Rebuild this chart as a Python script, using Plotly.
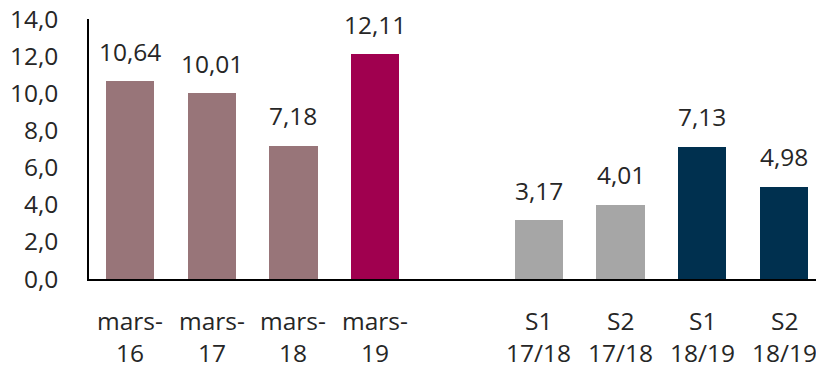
import plotly.graph_objects as go

# Data
categories_line1 = ["mars-", "mars-", "mars-", "mars-", "S1", "S2", "S1", "S2"]
categories_line2 = ["16", "17", "18", "19", "17/18", "17/18", "18/19", "18/19"]
slots = [0, 1, 2, 3, 5, 6, 7, 8]
values = [10.64, 10.01, 7.18, 12.11, 3.17, 4.01, 7.13, 4.98]
colors = ["#987579", "#987579", "#987579", "#A0004F",
          "#A6A6A6", "#A6A6A6", "#00304F", "#00304F"]
y_ticks = [0, 2, 4, 6, 8, 10, 12, 14]

FONT = "Open Sans"
TXT = "#262626"
FS = 24.5

fig = go.Figure()
fig.add_trace(go.Bar(
    x=slots, y=values, marker=dict(color=colors, line=dict(width=0)),
    width=0.59, hoverinfo="skip",
))

annotations = []
for x, v in zip(slots, values):
    annotations.append(dict(
        x=x, y=v, xref="x", yref="y", text=f"{v:.2f}".replace(".", ","),
        showarrow=False, yanchor="middle", yshift=30,
        font=dict(family=FONT, size=FS, color=TXT),
    ))
for x, l1, l2 in zip(slots, categories_line1, categories_line2):
    annotations.append(dict(
        x=x, y=0, xref="x", yref="paper", text=l1, showarrow=False,
        yanchor="middle", yshift=-41, font=dict(family=FONT, size=FS, color=TXT),
    ))
    annotations.append(dict(
        x=x, y=0, xref="x", yref="paper", text=l2, showarrow=False,
        yanchor="middle", yshift=-73, font=dict(family=FONT, size=FS, color=TXT),
    ))

fig.update_layout(
    width=816, height=369,
    margin=dict(l=89, r=0, t=19, b=90),
    paper_bgcolor="white", plot_bgcolor="white",
    showlegend=False,
    separators=", ",
    font=dict(family=FONT, size=FS, color=TXT),
    annotations=annotations,
    xaxis=dict(
        range=[-0.5, 8.39], showticklabels=False, showgrid=False,
        zeroline=False, showline=True, linecolor="#000000", linewidth=1.5,
        ticks="",
    ),
    yaxis=dict(
        range=[0, 14], tickvals=y_ticks, tickformat=".1f",
        showgrid=False, zeroline=False, showline=True,
        linecolor="#000000", linewidth=1.5, ticks="",
        ticklabelstandoff=24,
        tickfont=dict(family=FONT, size=FS, color=TXT),
    ),
    bargap=0,
)

fig.write_html("out.html")
